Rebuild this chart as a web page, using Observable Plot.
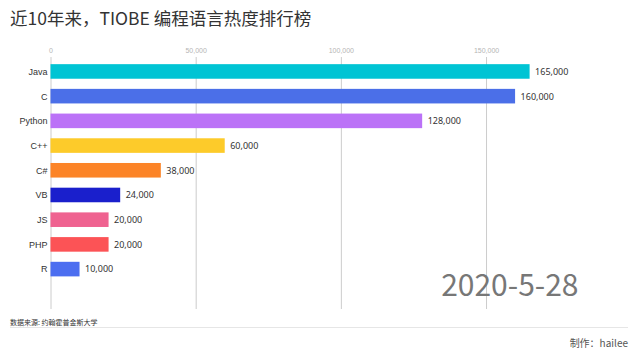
<!DOCTYPE html>
<html>
<head>
<meta charset="utf-8">
<script src="https://cdn.jsdelivr.net/npm/d3@7"></script>
<script src="https://cdn.jsdelivr.net/npm/@observablehq/plot@0.6"></script>
<style>
  html, body { margin: 0; padding: 0; background: #fff; }
  #wrap { position: relative; width: 639px; height: 359px; overflow: hidden; font-family: "Noto Sans CJK SC", "Noto Sans", sans-serif; }
  #title { position: absolute; left: 10px; top: 5px; font-size: 17.5px; color: #333; white-space: nowrap; line-height: 26px; }
  #chart { position: absolute; left: 0; top: 30px; }
  #source { position: absolute; left: 10px; top: 316px; font-size: 7px; color: #333; line-height: 12px; }
  #rule { position: absolute; left: 10px; top: 327px; width: 618px; height: 1px; background: #e6e6e6; }
  #credit { position: absolute; right: 11px; top: 336px; font-size: 10px; color: #555; line-height: 14px; }
</style>
</head>
<body>
<div id="wrap">
  <div id="title">近10年来，TIOBE 编程语言热度排行榜</div>
  <div id="chart"></div>
  <div id="source">数据来源: 约翰霍普金斯大学</div>
  <div id="rule"></div>
  <div id="credit">制作：hailee</div>
</div>
<script>
const languages = ["Java", "C", "Python", "C++", "C#", "VB", "JS", "PHP", "R"];
const values = [165000, 160000, 128000, 60000, 38000, 24000, 20000, 20000, 10000];
const colors = ["#00c4d4", "#4b6fe8", "#bb72f7", "#fdcb2a", "#fc8427", "#1a1fcc", "#ef6290", "#fc5356", "#4c6ef0"];
const xTicks = [0, 50000, 100000, 150000];
const dateLabel = "2020-5-28";

const data = languages.map((name, i) => ({name, value: values[i], color: colors[i]}));
const fmt = d3.format(",");

const plot = Plot.plot({
  width: 639,
  height: 290,
  marginTop: 27,
  marginBottom: 11,
  marginLeft: 50.5,
  marginRight: 109.4,
  style: {fontFamily: "'Liberation Sans', Arial, sans-serif", background: "transparent"},
  x: {domain: [0, d3.max(values)], ticks: xTicks},
  y: {domain: languages, paddingInner: 0.41, paddingOuter: 0.805, align: 0.18, round: false},
  marks: [
    Plot.gridX(xTicks, {stroke: "#cccccc", strokeOpacity: 1, strokeWidth: 1}),
    Plot.axisX(xTicks, {anchor: "top", tickSize: 0, tickPadding: 5, fontSize: 7, fill: "#b5b5b5", tickFormat: fmt, label: null}),
    Plot.axisY({tickSize: 0, tickPadding: 3.5, fontSize: 9, fill: "#333", label: null}),
    Plot.barX(data, {x: "value", y: "name", fill: "color"}),
    Plot.text(data, {x: "value", y: "name", text: d => fmt(d.value), textAnchor: "start", dx: 5, fontSize: 9, fill: "#333", fontFamily: "'Noto Sans', sans-serif"}),
    Plot.text([dateLabel], {text: d => d, frameAnchor: "bottom-right", textAnchor: "end", lineAnchor: "bottom", dx: 48.4, dy: -14, fontSize: 30, fill: "#777", fontFamily: "'Noto Sans CJK SC', 'Noto Sans', sans-serif"})
  ]
});
document.getElementById("chart").appendChild(plot);
</script>
</body>
</html>
